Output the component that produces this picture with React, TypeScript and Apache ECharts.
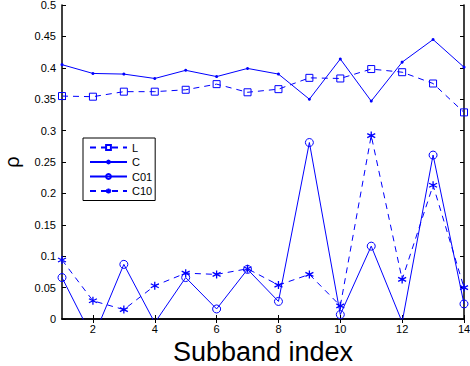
import React, { useEffect, useRef } from "react";
import * as echarts from "echarts";

const subbands = [1, 2, 3, 4, 5, 6, 7, 8, 9, 10, 11, 12, 13, 14];
const xTicks = [2, 4, 6, 8, 10, 12, 14];
const seriesL = [0.355, 0.354, 0.362, 0.362, 0.365, 0.374, 0.361, 0.366, 0.384, 0.383, 0.398, 0.393, 0.375, 0.329];
const seriesC = [0.405, 0.391, 0.39, 0.383, 0.396, 0.386, 0.399, 0.39, 0.35, 0.414, 0.347, 0.409, 0.445, 0.401];
const seriesC01 = [0.066, -0.031, 0.087, -0.006, 0.066, 0.016, 0.079, 0.028, 0.281, 0.007, 0.116, -0.005, 0.261, 0.024];
const seriesC10 = [0.094, 0.029, 0.015, 0.053, 0.073, 0.071, 0.08, 0.054, 0.071, 0.021, 0.292, 0.063, 0.213, 0.05];

const BLUE = "#0000ff";
const FONT = "'Liberation Sans', Arial, Helvetica, sans-serif";
const STAR = "path://M0,-10L0,10M-8.66,-5L8.66,5M-8.66,5L8.66,-5";

const pairs = (ys: number[]) => subbands.map((x, i) => [x, ys[i]]);

export default function App() {
  const ref = useRef<HTMLDivElement>(null);
  useEffect(() => {
    document.body.style.margin = "0";
    const chart = echarts.init(ref.current!, null, { renderer: "svg" });
    const axisLine = { show: true, lineStyle: { color: "#000", width: 1.5 } };
    const tick = { show: true, inside: true, length: 4, lineStyle: { color: "#000", width: 1 } };
    chart.setOption({
      animation: false,
      backgroundColor: "#fff",
      textStyle: { fontFamily: FONT },
      grid: { left: 62, top: 5, width: 402, height: 314, containLabel: false, outerBoundsMode: "none" },
      legend: {
        orient: "vertical",
        left: 83,
        top: 138,
        data: ["L", "C", "C01", "C10"],
        itemWidth: 37,
        itemHeight: 6,
        itemGap: 3.5,
        padding: [4, 3, 4, 6],
        borderColor: "#000",
        borderWidth: 1,
        backgroundColor: "#fff",
        textStyle: { fontFamily: FONT, fontSize: 11, color: "#000" },
      },
      xAxis: [
        {
          type: "value",
          min: 1,
          max: 14,
          position: "bottom",
          name: "Subband index",
          nameLocation: "middle",
          nameGap: 16,
          nameTextStyle: { fontFamily: FONT, fontSize: 27, color: "#000" },
          axisLine,
          axisTick: { ...tick, customValues: xTicks },
          axisLabel: { customValues: xTicks, color: "#000", fontSize: 11, margin: 4, fontFamily: FONT },
          splitLine: { show: false },
        },
        {
          type: "value",
          min: 1,
          max: 14,
          position: "top",
          axisLine,
          axisTick: { ...tick, customValues: xTicks },
          axisLabel: { show: false },
          splitLine: { show: false },
        },
      ],
      yAxis: [
        {
          type: "value",
          min: 0,
          max: 0.5,
          interval: 0.05,
          position: "left",
          name: "ρ",
          nameLocation: "middle",
          nameGap: 40,
          nameRotate: 90,
          nameTextStyle: { fontFamily: FONT, fontSize: 20, color: "#000" },
          axisLine,
          axisTick: tick,
          axisLabel: { color: "#000", fontSize: 11, margin: 6, fontFamily: FONT },
          splitLine: { show: false },
        },
        {
          type: "value",
          min: 0,
          max: 0.5,
          interval: 0.05,
          position: "right",
          axisLine,
          axisTick: tick,
          axisLabel: { show: false },
          splitLine: { show: false },
        },
      ],
      series: [
        {
          name: "L",
          type: "line",
          data: pairs(seriesL),
          symbol: "rect",
          symbolSize: 7,
          showAllSymbol: true,
          lineStyle: { color: BLUE, width: 1, type: [6, 5] },
          itemStyle: { color: "rgba(0,0,0,0)", borderColor: BLUE, borderWidth: 1 },
        },
        {
          name: "C",
          type: "line",
          data: pairs(seriesC),
          symbol: "circle",
          symbolSize: 3,
          lineStyle: { color: BLUE, width: 1 },
          itemStyle: { color: BLUE, borderColor: BLUE, borderWidth: 0 },
        },
        {
          name: "C01",
          type: "line",
          data: pairs(seriesC01),
          symbol: "circle",
          symbolSize: 8,
          lineStyle: { color: BLUE, width: 1 },
          itemStyle: { color: "rgba(0,0,0,0)", borderColor: BLUE, borderWidth: 1 },
        },
        {
          name: "C10",
          type: "line",
          data: pairs(seriesC10),
          symbol: STAR,
          symbolSize: 8,
          lineStyle: { color: BLUE, width: 1, type: [6, 5] },
          itemStyle: { color: "rgba(0,0,0,0)", borderColor: BLUE, borderWidth: 1.3 },
        },
      ],
    });
    return () => chart.dispose();
  }, []);
  return <div ref={ref} style={{ position: "absolute", left: 0, top: 0, width: 470, height: 366 }} />;
}
